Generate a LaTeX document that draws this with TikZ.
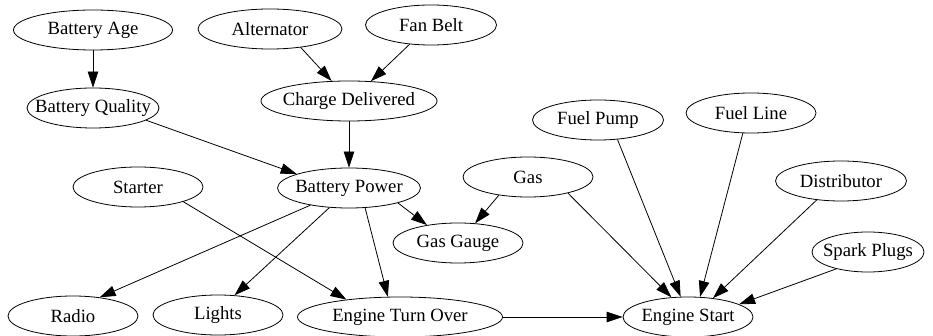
\documentclass[tikz,border=0pt]{standalone}
\usepackage{fontspec}
\setmainfont{Liberation Serif}
\usetikzlibrary{shapes.geometric,arrows.meta}
\tikzset{
  bn/.style={ellipse,draw,line width=0.8pt,inner sep=0pt,minimum height=40pt,
    font=\fontsize{18.7}{22}\selectfont},
  edge/.style={line width=0.8pt,-{Triangle[length=16pt,width=10.5pt]}}
}
\newcommand{\lbl}[1]{\makebox[0pt]{#1}}
\begin{document}
\begin{tikzpicture}[x=1pt,y=-1pt]
\useasboundingbox (0,0) rectangle (933,336);
\node[bn,minimum width=159pt] (ba) at (93,30) {\lbl{Battery Age}};
\node[bn,minimum width=144pt] (alt) at (270,29) {\lbl{Alternator}};
\node[bn,minimum width=131pt] (fb) at (431,25) {\lbl{Fan Belt}};
\node[bn,minimum width=176pt] (cd) at (349,101) {\lbl{Charge Delivered}};
\node[bn,minimum width=132pt] (bq) at (93,108) {\lbl{Battery Quality}};
\node[bn,minimum width=143pt] (bp) at (349,188) {\lbl{Battery Power}};
\node[bn,minimum width=130pt] (st) at (138,187) {\lbl{Starter}};
\node[bn,minimum width=130pt] (gg) at (458,243) {\lbl{Gas Gauge}};
\node[bn,minimum width=130pt] (gas) at (528,177) {\lbl{Gas}};
\node[bn,minimum width=131pt] (fp) at (598,120) {\lbl{Fuel Pump}};
\node[bn,minimum width=130pt] (fl) at (751,113) {\lbl{Fuel Line}};
\node[bn,minimum width=131pt] (dist) at (841,181) {\lbl{Distributor}};
\node[bn,minimum width=112pt] (sp) at (868,252) {\lbl{Spark Plugs}};
\node[bn,minimum width=130pt] (es) at (688,317) {\lbl{Engine Start}};
\node[bn,minimum width=130pt] (radio) at (73,316) {\lbl{Radio}};
\node[bn,minimum width=130pt] (lights) at (218,315) {\lbl{Lights}};
\node[bn,minimum width=205pt] (eto) at (400,317) {\lbl{Engine Turn Over}};

\draw[edge] (ba) -- (bq);
\draw[edge] (alt.-31) -- (cd.131);
\draw[edge] (fb.-138) -- (cd.42);
\draw[edge] (bq.-13) -- (bp.165);
\draw[edge] (cd) -- (bp);
\draw[edge] (bp.-156) -- (radio.35);
\draw[edge] (bp.-135) -- (lights.50);
\draw[edge] (bp.-51) -- (eto.121);
\draw[edge] (bp.-17) -- (gg.150);
\draw[edge] (st.-18) -- (eto.162);
\draw[edge] (gas.-148) -- (gg.49);
\draw[edge] (gas.-22) -- (es.130);
\draw[edge] (fp.-45) -- (es.110);
\draw[edge] (fl.-112) -- (es.59);
\draw[edge] (dist.-142) -- (es.37);
\draw[edge] (sp.-152) -- (es.14);
\draw[edge] (eto) -- (es);
\end{tikzpicture}
\end{document}
